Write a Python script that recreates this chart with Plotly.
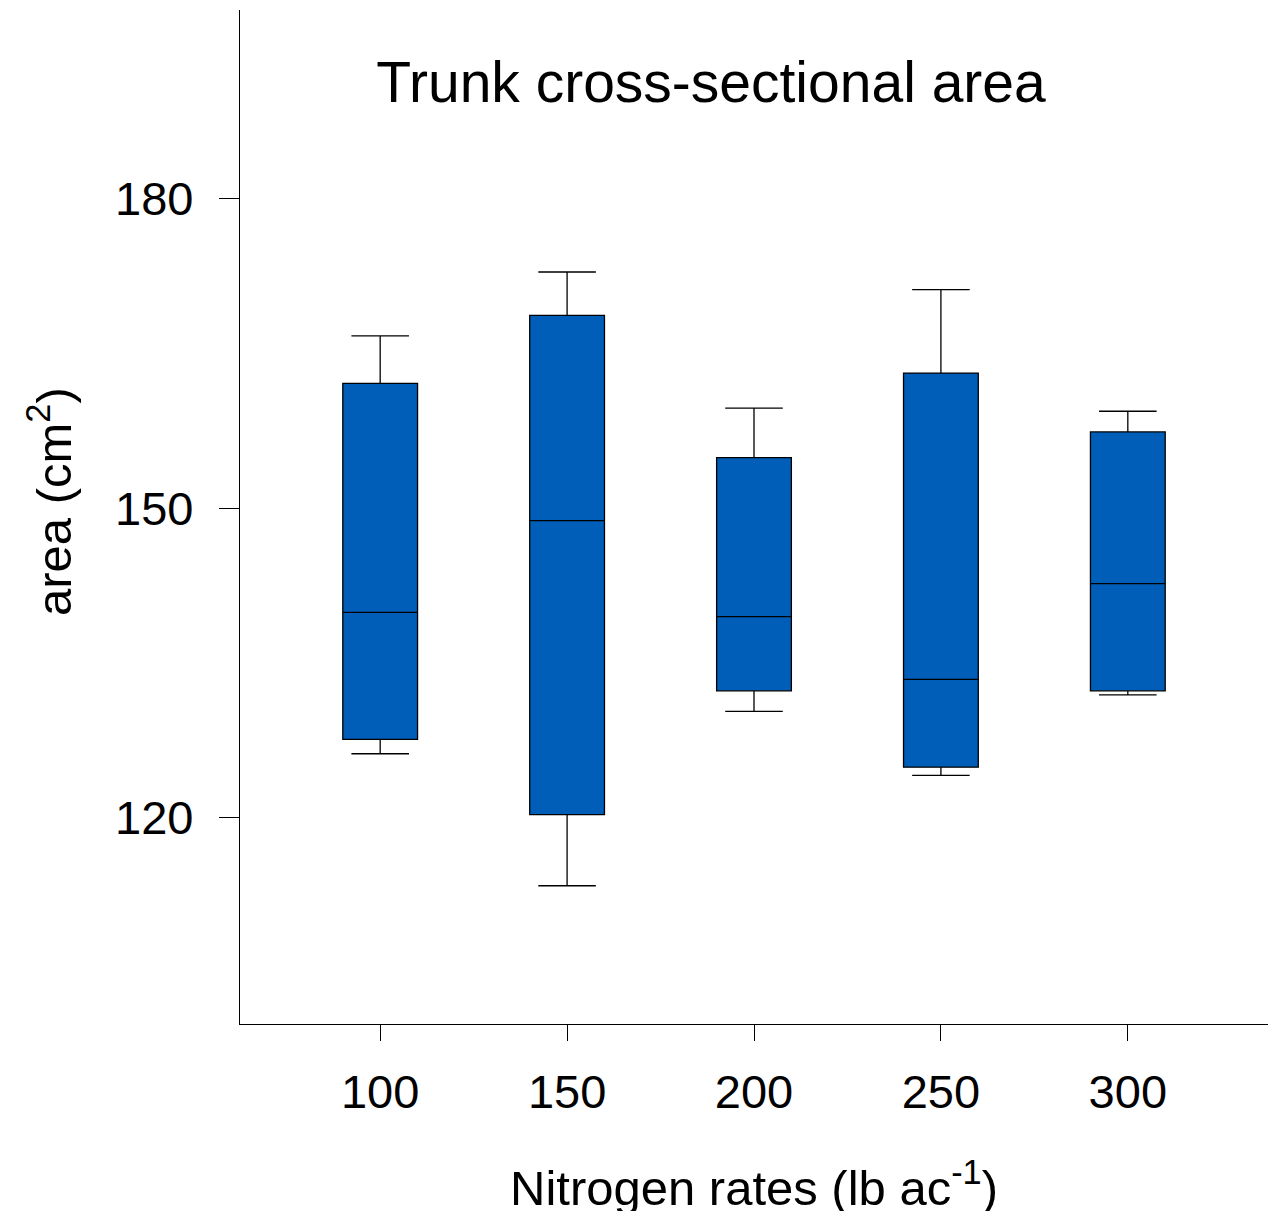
import plotly.graph_objects as go

# Data
nitrogen_rates = [100, 150, 200, 250, 300]
upper_whisker = [166.7, 172.9, 159.7, 171.2, 159.4]
q3_values = [162.1, 168.7, 154.9, 163.1, 157.4]
median_values = [139.9, 148.8, 139.5, 133.4, 142.7]
q1_values = [127.6, 120.3, 132.3, 124.9, 132.3]
lower_whisker = [126.2, 113.4, 130.3, 124.1, 131.9]
y_ticks = [120, 150, 180]

FONT = "Liberation Sans, Arial, sans-serif"

fig = go.Figure()
fig.add_trace(go.Box(
    x=nitrogen_rates,
    q1=q1_values,
    median=median_values,
    q3=q3_values,
    lowerfence=lower_whisker,
    upperfence=upper_whisker,
    width=20,
    whiskerwidth=0.77,
    fillcolor="#005EB8",
    line=dict(color="black", width=1.3),
    boxpoints=False,
    hoverinfo="skip",
    showlegend=False,
))

W, H = 1276, 1211
L, R, T, B = 240, 8, 10, 187

fig.update_layout(
    width=W, height=H,
    margin=dict(l=L, r=R, t=T, b=B),
    paper_bgcolor="white", plot_bgcolor="white",
    font=dict(family=FONT, color="black"),
    title=dict(text="Trunk cross-sectional area", font=dict(size=57, family=FONT, color="black"),
               x=711 / W, xanchor="center", xref="container",
               y=1 - 82 / H, yanchor="middle", yref="container"),
    xaxis=dict(range=[62.5, 337.5], tickvals=nitrogen_rates, ticktext=[str(v) for v in nitrogen_rates],
               showgrid=False, zeroline=False, showline=True, linecolor="black", linewidth=1.3,
               ticks="outside", ticklen=16, tickwidth=1.3, tickcolor="black",
               tickfont=dict(size=47, family=FONT, color="black"), ticklabelstandoff=10),
    yaxis=dict(range=[100, 198.3], tickvals=y_ticks, ticktext=[str(v) for v in y_ticks],
               showgrid=False, zeroline=False, showline=True, linecolor="black", linewidth=1.3,
               ticks="outside", ticklen=20, tickwidth=1.3, tickcolor="black",
               tickfont=dict(size=47, family=FONT, color="black"), ticklabelstandoff=16),
)

pw = W - L - R
ph = H - T - B
fig.add_annotation(text="Nitrogen rates (lb ac<sup>-1</sup>)", xref="paper", yref="paper",
                   x=(754 - L) / pw, y=(H - B - 1184) / ph, xanchor="center", yanchor="middle",
                   showarrow=False, font=dict(size=49, family=FONT, color="black"))
fig.add_annotation(text="area (cm<sup>2</sup>)", xref="paper", yref="paper",
                   x=(50 - L) / pw, y=(H - B - 502) / ph, xanchor="center", yanchor="middle",
                   textangle=-90, showarrow=False, font=dict(size=49, family=FONT, color="black"))

fig.write_html("out.html")
